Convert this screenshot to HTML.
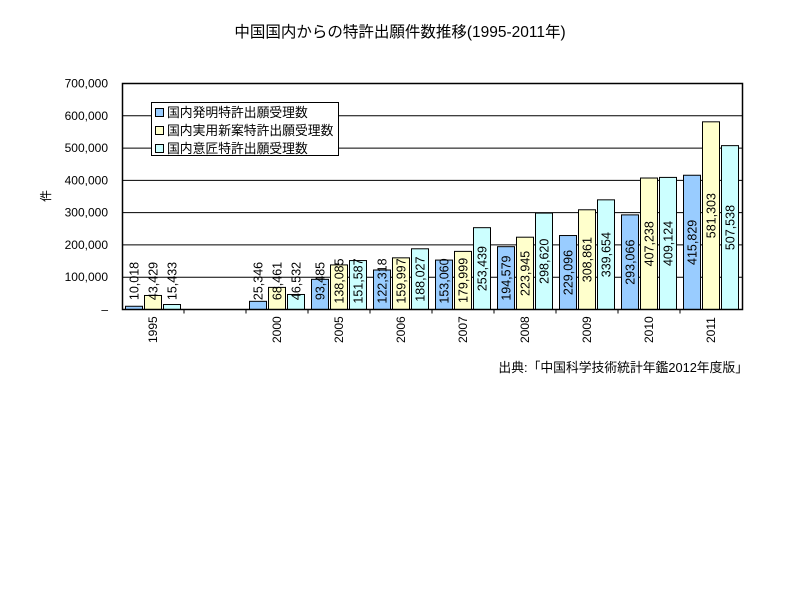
<!DOCTYPE html>
<html><head><meta charset="utf-8"><style>body{margin:0;background:#fff}svg{display:block}text{font-family:"Liberation Sans","Noto Sans CJK JP",sans-serif}</style></head><body>
<svg width="800" height="600" xmlns="http://www.w3.org/2000/svg">
<rect width="800" height="600" fill="#fff"/>
<text x="400" y="37" font-size="15.5" text-anchor="middle">中国国内からの特許出願件数推移(1995-2011年)</text>
<g id="grid" stroke="#000" stroke-width="1"></g>
<g id="bars"></g>
<rect x="122.5" y="83.5" width="620" height="226" fill="none" stroke="#000" stroke-width="1.5"/>
<text x="50" y="196" font-size="12" text-anchor="middle" transform="rotate(-90 50 196)">件</text>
<g id="yl" font-size="12" text-anchor="end"></g>
<g id="xl" font-size="12"></g>
<g id="legend">
<rect x="151.5" y="102.5" width="187" height="53" fill="#fff" stroke="#000"/>
<rect x="155.5" y="108.5" width="8" height="8" fill="#99ccff" stroke="#000"/>
<text x="167" y="117" font-size="12.8">国内発明特許出願受理数</text>
<rect x="155.5" y="126.5" width="8" height="8" fill="#ffffcc" stroke="#000"/>
<text x="167" y="135" font-size="12.8">国内実用新案特許出願受理数</text>
<rect x="155.5" y="144.5" width="8" height="8" fill="#ccffff" stroke="#000"/>
<text x="167" y="153" font-size="12.8">国内意匠特許出願受理数</text>
</g>
<text x="748" y="372" font-size="12.8" text-anchor="end">出典:「中国科学技術統計年鑑2012年度版」</text>
<script>
var ns="http://www.w3.org/2000/svg";
function el(p,t,a,txt){var e=document.createElementNS(ns,t);for(var k in a)e.setAttribute(k,a[k]);if(txt!=null)e.textContent=txt;document.getElementById(p).appendChild(e);return e;}
var B=309.5,S=226/700000;
for(var i=1;i<7;i++){var y=B-i*100000*S;el("grid","line",{x1:122,x2:742,y1:y,y2:y});}
var yl=["–","100,000","200,000","300,000","400,000","500,000","600,000","700,000"];
for(var i=0;i<8;i++){el("yl","text",{x:108,y:B-i*100000*S+4},yl[i]);}
var cats=["1995","","2000","2005","2006","2007","2008","2009","2010","2011"];
var d=[[10018,43429,15433],null,[25346,68461,46532],[93485,138085,151587],[122318,159997,188027],[153060,179999,253439],[194579,223945,298620],[229096,308861,339654],[293066,407238,409124],[415829,581303,507538]];
var cols=["#99ccff","#ffffcc","#ccffff"];
for(var c=0;c<10;c++){var x0=122+c*62;
 if(c>0)el("grid","line",{x1:x0,x2:x0,y1:B,y2:B+4});
 if(cats[c]){var cx=x0+31+4;el("xl","text",{x:cx,y:343,transform:"rotate(-90 "+cx+" 343)"},cats[c]);}
 if(!d[c])continue;
 for(var j=0;j<3;j++){var v=d[c][j],h=v*S,bx=x0+3.5+j*19;
  el("bars","rect",{x:bx,y:B-h,width:17,height:h,fill:cols[j],stroke:"#000","stroke-width":1});
  var cy=Math.min(B-h/2,281),tx=bx+13;
  el("bars","text",{x:tx,y:cy,"font-size":12.5,"text-anchor":"middle",transform:"rotate(-90 "+tx+" "+cy+")"},v.toLocaleString("en-US"));
 }}
</script>
</svg>
</body></html>
